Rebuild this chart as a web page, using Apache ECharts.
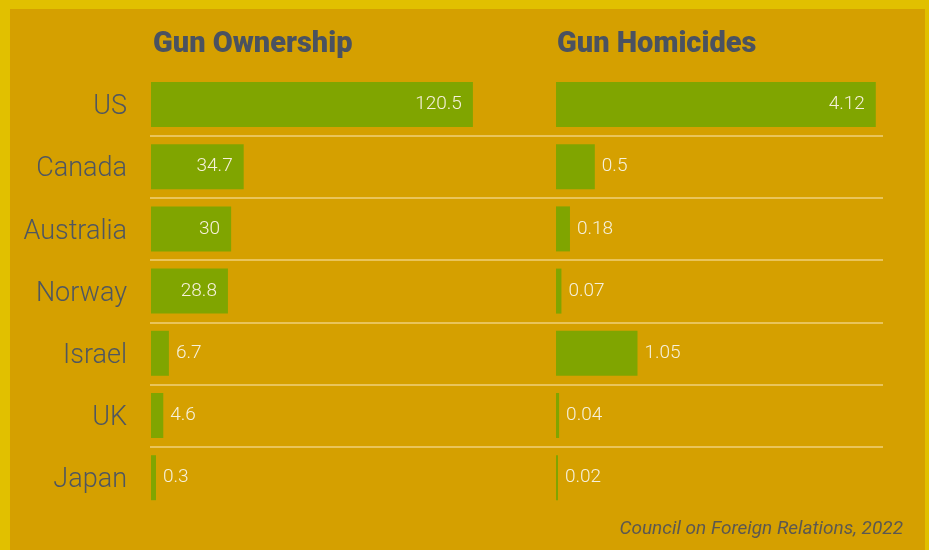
<!DOCTYPE html>
<html>
<head>
<meta charset="utf-8">
<script src="https://cdn.jsdelivr.net/npm/echarts@6/dist/echarts.min.js"></script>
<style>
  html, body { margin: 0; padding: 0; }
  #chart { width: 929px; height: 550px; }
</style>
</head>
<body>
<div id="chart"></div>
<script>
// data
var countries = ['US', 'Canada', 'Australia', 'Norway', 'Israel', 'UK', 'Japan'];
var ownership = [120.5, 34.7, 30, 28.8, 6.7, 4.6, 0.3];
var homicides = [4.12, 0.5, 0.18, 0.07, 1.05, 0.04, 0.02];
var titles = ['Gun Ownership', 'Gun Homicides'];
var source = 'Council on Foreign Relations, 2022';

var green = '#80A500';
var textGrey = '#4F5660';

// big bars get the number inside, small ones get it after the bar
function withLabels(values, limit) {
    return values.map(function(v) {
        var inside = v > limit;
        return {
            value: v,
            label: {
                position: inside ? 'insideRight' : 'right',
                distance: inside ? 11 : 7
            }
        };
    });
}

var rowTop = 73.4, rowH = 435.4;
var titleStyle = { fontFamily: 'Roboto', fontWeight: 900, fontSize: 29, color: '#4A5260' };

var option = {
    backgroundColor: '#E1C000',
    animation: false,
    graphic: [{
        type: 'rect',
        z: -10,
        shape: { x: 10, y: 9, width: 915, height: 545 },
        style: { fill: '#D5A000' }
    }, {
        type: 'text',
        right: 26,
        top: 520,
        style: {
            text: source,
            fill: '#5C5850',
            font: 'italic 19px Roboto'
        }
    }],
    title: [
        { text: titles[0], left: 148, top: 25, textStyle: titleStyle },
        { text: titles[1], left: 552, top: 25, textStyle: titleStyle }
    ],
    grid: [
        { left: 151, top: rowTop, width: 374, height: rowH },
        { left: 556, top: rowTop, width: 326, height: rowH },
        { left: 150, top: 135.5, width: 733, height: 311.5 }
    ],
    xAxis: [
        { type: 'value', gridIndex: 0, min: 0, max: 140, show: false },
        { type: 'value', gridIndex: 1, min: 0, max: 4.2, show: false },
        { type: 'value', gridIndex: 2, min: 0, max: 1, show: false }
    ],
    yAxis: [{
        type: 'category', gridIndex: 0, data: countries, inverse: true,
        axisLine: { show: false }, axisTick: { show: false },
        axisLabel: {
            margin: 24,
            formatter: function(name) { return '{c|' + name + '}'; },
            rich: {
                c: {
                    padding: [6, 0, 0, 0],
                    fontFamily: 'Roboto', fontWeight: 300, fontSize: 27, color: textGrey
                }
            }
        }
    }, {
        type: 'category', gridIndex: 1, data: countries, inverse: true,
        axisLine: { show: false }, axisTick: { show: false }, axisLabel: { show: false }
    }, {
        // row separators
        type: 'value', gridIndex: 2, min: 0, max: 5, interval: 1,
        axisLine: { show: false }, axisTick: { show: false }, axisLabel: { show: false },
        splitLine: { show: true, lineStyle: { color: 'rgba(245,215,140,0.65)', width: 2 } }
    }],
    series: [{
        type: 'bar',
        xAxisIndex: 0, yAxisIndex: 0,
        barWidth: 45,
        barMinHeight: 5,
        itemStyle: { color: green },
        label: { show: true, fontFamily: 'Roboto', fontWeight: 300, fontSize: 19, color: '#F6F1DC' },
        data: withLabels(ownership, 20)
    }, {
        type: 'bar',
        xAxisIndex: 1, yAxisIndex: 1,
        barWidth: 45,
        barMinHeight: 2,
        itemStyle: { color: green },
        label: { show: true, fontFamily: 'Roboto', fontWeight: 300, fontSize: 19, color: '#F6F1DC' },
        data: withLabels(homicides, 2)
    }]
};

var myChart = echarts.init(document.getElementById('chart'));
myChart.setOption(option);
</script>
</body>
</html>
